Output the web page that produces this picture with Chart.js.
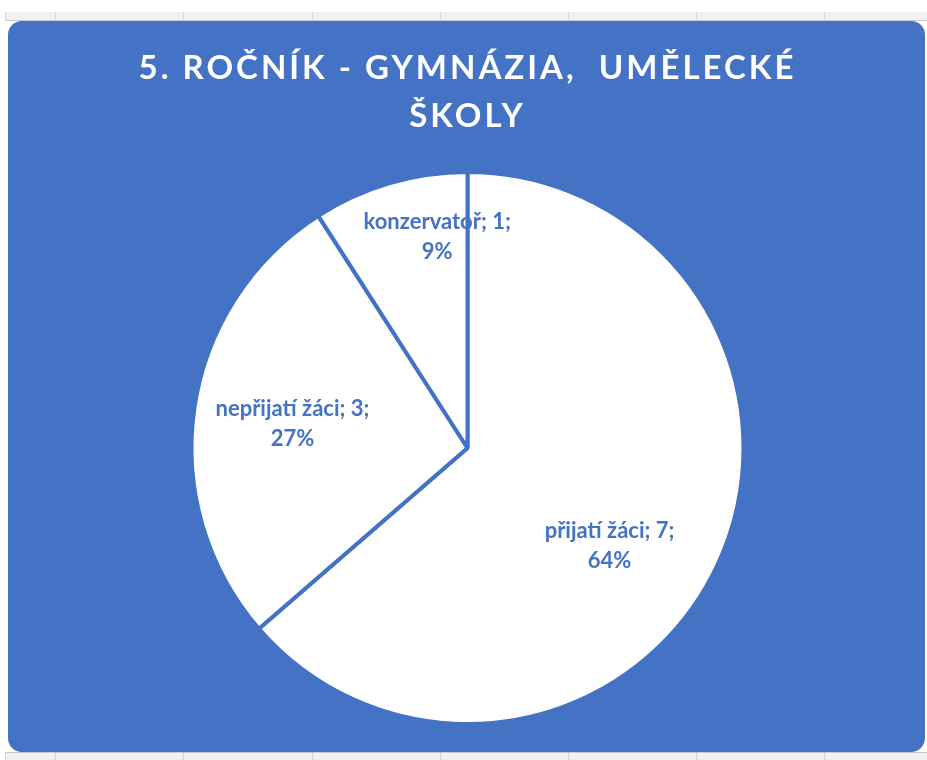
<!DOCTYPE html>
<html>
<head>
<meta charset="utf-8">
<script src="https://cdn.jsdelivr.net/npm/chart.js@4.4.1/dist/chart.umd.min.js"></script>
<style>
  html, body { margin: 0; padding: 0; background: #ffffff; width: 927px; height: 760px; overflow: hidden; }
  .strip { position: absolute; left: 5px; width: 922px; height: 8px; background: #f1f1f1; }
  .strip.top { top: 12px; border-bottom: 1px solid #c9c9c9; }
  .strip.bottom { top: 752px; border-top: 1px solid #c9c9c9; }
  .grid { position: absolute; top: 0; width: 1px; height: 8px; background: #d4d4d4; }
  #box { position: absolute; left: 8px; top: 21px; width: 917px; height: 731px; background: #4472C4; border-radius: 14px; overflow: hidden; }
  canvas { display: block; }
</style>
</head>
<body>
<div class="strip top" id="stripTop"></div>
<div class="strip bottom" id="stripBottom"></div>
<div id="box"><canvas id="c" width="917" height="731"></canvas></div>
<script>
// ---- data ----
const titleLines = ["5. ROČNÍK - GYMNÁZIA,  UMĚLECKÉ", "ŠKOLY"];
const categories = ["přijatí žáci", "nepřijatí žáci", "konzervatoř"];
const values = [7, 3, 1];

// ---- label placement (style) ----
const labelRadiusFrac = [0.625, 0.64, 0.772];
const labelAngleShiftDeg = [10, -0.4, 8.2];

const BLUE = '#4472C4';

// excel sheet column lines in strips
const gridXs = [0, 50, 178, 307, 435, 563, 691, 819];
['stripTop', 'stripBottom'].forEach(id => {
  const s = document.getElementById(id);
  gridXs.forEach(x => { const d = document.createElement('div'); d.className = 'grid'; d.style.left = x + 'px'; s.appendChild(d); });
});

const total = values.reduce((a, b) => a + b, 0);

const titleSpacing = {
  id: 'titleSpacing',
  beforeDraw(chart) { chart.ctx.letterSpacing = '3px'; },
  beforeDatasetsDraw(chart) { chart.ctx.letterSpacing = '0px'; }
};

const sliceLabels = {
  id: 'sliceLabels',
  afterDatasetsDraw(chart) {
    const ctx = chart.ctx;
    const meta = chart.getDatasetMeta(0);
    ctx.save();
    ctx.letterSpacing = '0px';
    ctx.font = 'bold 22px Lato';
    ctx.fillStyle = BLUE;
    ctx.textAlign = 'center';
    ctx.textBaseline = 'middle';
    meta.data.forEach((arc, i) => {
      const p = arc.getProps(['x', 'y', 'startAngle', 'endAngle', 'outerRadius'], true);
      const mid = (p.startAngle + p.endAngle) / 2 + labelAngleShiftDeg[i] * Math.PI / 180;
      const r = p.outerRadius * labelRadiusFrac[i];
      const cx = p.x + Math.cos(mid) * r;
      const cy = p.y + Math.sin(mid) * r;
      const pct = Math.round(values[i] / total * 100);
      const lines = [categories[i] + '; ' + values[i] + ';', pct + '%'];
      const lh = 30;
      lines.forEach((t, k) => {
        ctx.fillText(t, cx, cy + (k - (lines.length - 1) / 2) * lh);
      });
    });
    ctx.restore();
  }
};

new Chart(document.getElementById('c'), {
  type: 'pie',
  data: {
    labels: categories,
    datasets: [{
      data: values,
      backgroundColor: '#ffffff',
      borderColor: BLUE,
      borderWidth: 4,
      radius: 276
    }]
  },
  options: {
    responsive: false,
    animation: false,
    events: [],
    layout: { padding: { left: 2, right: 0, top: 0, bottom: 30 } },
    plugins: {
      legend: { display: false },
      tooltip: { enabled: false },
      title: {
        display: true,
        text: titleLines,
        color: '#ffffff',
        font: { family: 'Lato', weight: 'bold', size: 33, lineHeight: 1.47 },
        padding: { top: 22.7, bottom: 33.3 }
      }
    }
  },
  plugins: [titleSpacing, sliceLabels]
});
</script>
</body>
</html>
